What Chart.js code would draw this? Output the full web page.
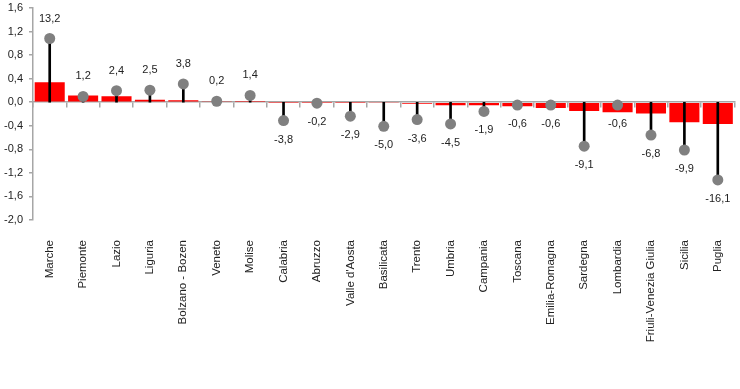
<!DOCTYPE html>
<html>
<head>
<meta charset="utf-8">
<script src="https://cdn.jsdelivr.net/npm/chart.js@4/dist/chart.umd.min.js"></script>
<style>
  html, body { margin: 0; padding: 0; background: #fff; }
  #wrap { width: 740px; height: 389px; }
</style>
</head>
<body>
<div id="wrap"><canvas id="myChart"></canvas></div>
<script>
// regions, left to right
const regions = ['Marche', 'Piemonte', 'Lazio', 'Liguria', 'Bolzano - Bozen', 'Veneto', 'Molise',
    'Calabria', 'Abruzzo', "Valle d'Aosta", 'Basilicata', 'Trento', 'Umbria', 'Campania', 'Toscana',
    'Emilia-Romagna', 'Sardegna', 'Lombardia', 'Friuli-Venezia Giulia', 'Sicilia', 'Puglia'];

// red bars (left axis)
const contribution = [0.34, 0.115, 0.10, 0.04, 0.035, 0.01, 0.005, -0.005, -0.005, -0.005, -0.01,
    -0.025, -0.05, -0.05, -0.07, -0.10, -0.15, -0.17, -0.19, -0.34, -0.37];

// grey dots with stems (hidden right axis), also the labels
const change = [13.2, 1.2, 2.4, 2.5, 3.8, 0.2, 1.4, -3.8, -0.2, -2.9, -5.0, -3.6, -4.5, -1.9, -0.6,
    -0.6, -9.1, -0.6, -6.8, -9.9, -16.1];

const yTicks = [1.6, 1.2, 0.8, 0.4, 0.0, -0.4, -0.8, -1.2, -1.6, -2.0];

const fmt = (v, d) => v.toFixed(d).replace('.', ',');
const font = { family: "'Liberation Sans', Arial, sans-serif", size: 11 };
const axisGrey = '#a6a6a6';

// value labels above / below the dots
const valueLabels = {
    id: 'valueLabels',
    afterDatasetsDraw(chart) {
        const ctx = chart.ctx;
        const meta = chart.getDatasetMeta(0);
        ctx.save();
        ctx.font = '11px ' + font.family;
        ctx.fillStyle = '#222';
        ctx.textAlign = 'center';
        ctx.textBaseline = 'middle';
        meta.data.forEach((pt, i) => {
            const v = change[i];
            const y = v >= 0 ? pt.y - 20 : pt.y + 19;
            ctx.fillText(fmt(v, 1), pt.x, y);
        });
        ctx.restore();
    }
};

const ctx = document.getElementById('myChart').getContext('2d');
// eslint-disable-next-line no-undef
const chart = new Chart(ctx, {
    type: 'bar',
    data: {
        labels: regions,
        datasets: [{
            type: 'line',
            data: change,
            yAxisID: 'y2',
            showLine: false,
            pointRadius: 5.5,
            pointBackgroundColor: '#808080',
            pointBorderWidth: 0,
            order: 0
        }, {
            // stems from zero to the dot
            data: change.map(v => [0, v]),
            yAxisID: 'y2',
            grouped: false,
            barThickness: 2,
            backgroundColor: '#000',
            order: 1
        }, {
            data: contribution,
            backgroundColor: '#ff0000',
            barPercentage: 0.9,
            categoryPercentage: 1,
            order: 2
        }]
    },
    plugins: [valueLabels],
    options: {
        responsive: true,
        maintainAspectRatio: false,
        animation: false,
        layout: { padding: { top: 8, right: 5, left: 0, bottom: 0 } },
        plugins: { legend: { display: false }, tooltip: { enabled: false } },
        scales: {
            x: {
                position: 'bottom',
                grid: { display: false, drawTicks: false },
                border: { display: false },
                ticks: {
                    font: { family: font.family, size: 11.5 }, color: '#222', padding: 20,
                    minRotation: 90, maxRotation: 90, autoSkip: false
                },
                afterFit: s => { s.height = 169; s.paddingLeft = 0; s.paddingRight = 0; }
            },
            x0: {
                type: 'category',
                position: { y: 0 },
                grid: { offset: true, drawOnChartArea: false, drawTicks: true, tickLength: 5, color: axisGrey, lineWidth: 1.5 },
                border: { display: true, color: axisGrey, width: 1.5 },
                ticks: { display: false }
            },
            y: {
                min: -2.0,
                max: 1.6,
                afterBuildTicks: s => { s.ticks = yTicks.map(v => ({ value: v })); },
                grid: { drawOnChartArea: false, drawTicks: true, tickLength: 4, color: axisGrey, lineWidth: 1.5 },
                border: { display: true, color: axisGrey, width: 1.5 },
                ticks: { font: font, color: '#222', padding: 6, callback: v => fmt(v, 1) },
                afterFit: s => { s.width = 33; s.paddingTop = 0; s.paddingBottom = 0; }
            },
            y2: {
                display: false,
                min: -24.4,
                max: 19.52
            }
        }
    }
});
</script>
</body>
</html>
